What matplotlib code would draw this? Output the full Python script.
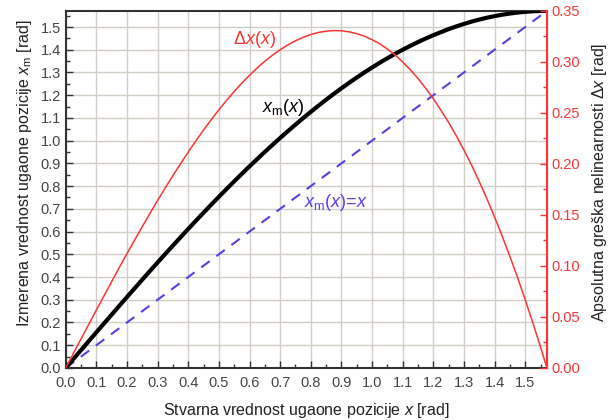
import matplotlib
matplotlib.use("Agg")
import matplotlib.pyplot as plt
from matplotlib.ticker import MultipleLocator, FormatStrFormatter

# values (rad), every 0.025 rad
x_true = [0.0, 0.025, 0.05, 0.075, 0.10, 0.125, 0.15, 0.175, 0.20, 0.225,
          0.25, 0.275, 0.30, 0.325, 0.35, 0.375, 0.40, 0.425, 0.45, 0.475,
          0.50, 0.525, 0.55, 0.575, 0.60, 0.625, 0.65, 0.675, 0.70, 0.725,
          0.75, 0.775, 0.80, 0.825, 0.85, 0.875, 0.90, 0.925, 0.95, 0.975,
          1.00, 1.025, 1.05, 1.075, 1.10, 1.125, 1.15, 1.175, 1.20, 1.225,
          1.25, 1.275, 1.30, 1.325, 1.35, 1.375, 1.40, 1.425, 1.45, 1.475,
          1.50, 1.525, 1.55, 1.5708]
x_meas = [0.0, 0.0393, 0.0785, 0.1177, 0.1568, 0.1958, 0.2347, 0.2735,
          0.3121, 0.3505, 0.3886, 0.4266, 0.4642, 0.5016, 0.5386, 0.5753,
          0.6117, 0.6477, 0.6833, 0.7184, 0.7531, 0.7873, 0.8210, 0.8543,
          0.8869, 0.9191, 0.9506, 0.9816, 1.0119, 1.0417, 1.0707, 1.0991,
          1.1268, 1.1539, 1.1801, 1.2057, 1.2305, 1.2545, 1.2777, 1.3003,
          1.3218, 1.3428, 1.3626, 1.3819, 1.3999, 1.4173, 1.4338, 1.4493,
          1.4640, 1.4775, 1.4907, 1.5026, 1.5136, 1.5238, 1.5327, 1.5409,
          1.5480, 1.5542, 1.5593, 1.5637, 1.5668, 1.5692, 1.5705, 1.5708]
delta_x = [0.0, 0.0143, 0.0285, 0.0427, 0.0568, 0.0708, 0.0847, 0.0985,
           0.1121, 0.1255, 0.1386, 0.1516, 0.1642, 0.1766, 0.1886, 0.2003,
           0.2117, 0.2227, 0.2333, 0.2434, 0.2531, 0.2623, 0.2710, 0.2793,
           0.2869, 0.2941, 0.3006, 0.3066, 0.3119, 0.3167, 0.3207, 0.3241,
           0.3268, 0.3289, 0.3301, 0.3307, 0.3305, 0.3295, 0.3277, 0.3253,
           0.3218, 0.3178, 0.3126, 0.3069, 0.2999, 0.2923, 0.2838, 0.2743,
           0.2640, 0.2525, 0.2407, 0.2276, 0.2136, 0.1988, 0.1827, 0.1659,
           0.1480, 0.1292, 0.1093, 0.0887, 0.0668, 0.0442, 0.0205, 0.0]
ideal_x = [0.0, 1.5708]

plt.rcParams['font.family'] = ['Liberation Sans', 'DejaVu Sans']
plt.rcParams['mathtext.fontset'] = 'custom'
plt.rcParams['mathtext.rm'] = 'Liberation Sans'
plt.rcParams['mathtext.it'] = 'Liberation Sans:italic'

red = '#ff3333'
blue = '#5a3ee6'
grid_c = '#d2cdc5'

fig = plt.figure(figsize=(6.09, 4.2), dpi=100)
ax = fig.add_axes([0.108, 0.124, 0.790, 0.850])
ax2 = ax.twinx()

ax.plot(ideal_x, ideal_x, color=blue, lw=1.5, ls=(0, (5, 4)), zorder=3)
ax.plot(x_true, x_meas, color='black', lw=3, zorder=4)
ax2.plot(x_true, delta_x, color=red, lw=1.1)

ax.set_xlim(0, 1.5708)
ax.set_ylim(0, 1.5708)
ax2.set_ylim(0, 0.35)

ax.xaxis.set_major_locator(MultipleLocator(0.1))
ax.xaxis.set_minor_locator(MultipleLocator(0.05))
ax.yaxis.set_major_locator(MultipleLocator(0.1))
ax.yaxis.set_minor_locator(MultipleLocator(0.05))
ax.xaxis.set_major_formatter(FormatStrFormatter('%.1f'))
ax.yaxis.set_major_formatter(FormatStrFormatter('%.1f'))
ax2.yaxis.set_major_locator(MultipleLocator(0.05))
ax2.yaxis.set_minor_locator(MultipleLocator(0.025))
ax2.yaxis.set_major_formatter(FormatStrFormatter('%.2f'))

ax.grid(True, which='major', color=grid_c, lw=1)
ax.set_axisbelow(True)

ax.tick_params(which='both', direction='in', labelsize=10.5, colors='#333333',
               labelcolor='#444444')
ax.tick_params(which='major', length=5, width=1)
ax.tick_params(which='minor', length=3, width=1)
ax.tick_params(axis='x', pad=6)
ax2.tick_params(which='both', direction='in', colors=red, labelcolor=red,
                labelsize=10.5)
ax2.tick_params(which='major', length=5, width=1)
ax2.tick_params(which='minor', length=3, width=1)

for s in ['left', 'bottom', 'top']:
    ax.spines[s].set_color('#333333')
    ax.spines[s].set_linewidth(1.5)
ax2.spines['right'].set_color(red)
ax2.spines['right'].set_linewidth(1.5)
for s in ['left', 'bottom', 'top']:
    ax2.spines[s].set_visible(False)

ax.set_xlabel('Stvarna vrednost ugaone pozicije $x$ [rad]', fontsize=11.5,
              color='#222222', labelpad=8)
ax.set_ylabel('Izmerena vrednost ugaone pozicije $x_\\mathrm{m}$ [rad]',
              fontsize=11.5, color='#222222')
ax2.set_ylabel('Apsolutna greška nelinearnosti Δ$x$ [rad]', fontsize=11.5,
               color='#222222')
ax.yaxis.set_label_coords(-0.066, 0.545)
ax2.yaxis.set_label_coords(1.089, 0.52)

ax.text(0.617, 1.447, 'Δ$x$($x$)', color=red, fontsize=13,
        ha='center', va='center')
ax.text(0.71, 1.148, '$x_\\mathrm{m}$($x$)', color='black', fontsize=13,
        ha='center', va='center')
ax.text(0.882, 0.728, '$x_\\mathrm{m}$($x$)=$x$', color=blue, fontsize=13,
        ha='center', va='center')

fig.savefig('out.png', dpi=100)
